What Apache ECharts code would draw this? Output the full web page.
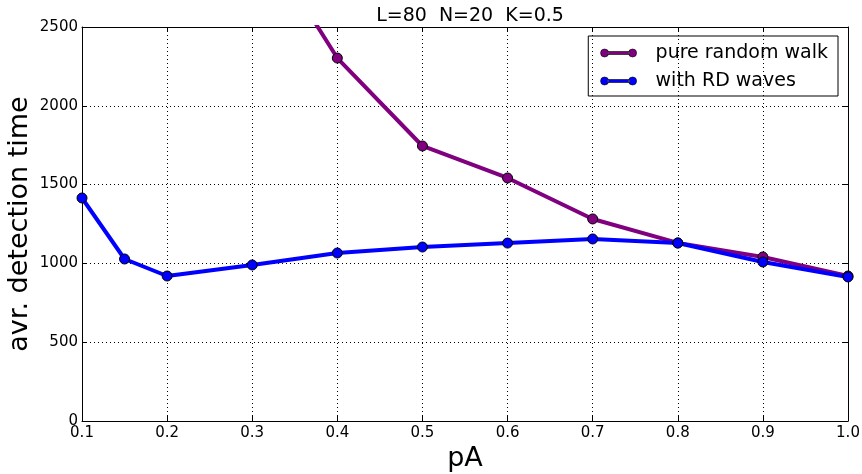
<!DOCTYPE html>
<html><head><meta charset="utf-8">
<script src="https://cdn.jsdelivr.net/npm/echarts@6/dist/echarts.min.js"></script>
<style>html,body{margin:0;padding:0;background:#fff}#c{width:862px;height:474px}</style>
</head><body><div id="c"></div>
<script>
const pA = [0.1, 0.15, 0.2, 0.3, 0.4, 0.5, 0.6, 0.7, 0.8, 0.9, 1.0];
const pureRandomWalk = [null, null, null, 3160, 2303, 1745, 1542, 1282, 1130, 1041, 920];
const withRDWaves = [1415, 1028, 920, 990, 1066, 1104, 1129, 1155, 1129, 1009, 914];
const yTicks = [0, 500, 1000, 1500, 2000, 2500];

const F = 'DejaVu Sans';
const chart = echarts.init(document.getElementById('c'));
const pairs = (ys) => pA.map((x, i) => [x, ys[i]]);
const gridLine = {show: true, lineStyle: {color: '#000', type: [1, 3], width: 1}};
const legendIcon = 'path://M0,4a4,4 0 1,0 8,0a4,4 0 1,0 -8,0zM28,4a4,4 0 1,0 8,0a4,4 0 1,0 -8,0zM7,2.5h22v3h-22z';
chart.setOption({
  animation: false,
  title: {text: 'L=80  N=20  K=0.5', left: 465, top: 2, textAlign: 'center',
    textStyle: {fontFamily: F, fontSize: 19, fontWeight: 'normal', color: '#000'}},
  grid: {left: 82, right: 14, top: 27, bottom: 53, outerBoundsMode: 'none', containLabel: false},
  legend: {
    right: 24, top: 36, orient: 'vertical', itemGap: 8, itemWidth: 36, itemHeight: 9,
    borderColor: '#000', borderWidth: 1, padding: [7, 10, 5, 12],
    icon: legendIcon,
    itemStyle: {borderColor: '#000', borderWidth: 0.6},
    textStyle: {fontFamily: F, fontSize: 19, lineHeight: 20, color: '#000', padding: [0, 0, 0, 14]},
    data: ['pure random walk', 'with RD waves']
  },
  xAxis: [{
    type: 'value', min: 0.1, max: 1.0, interval: 0.1,
    name: 'pA', nameLocation: 'middle', nameGap: 23,
    nameTextStyle: {fontFamily: F, fontSize: 27, color: '#000'},
    axisLine: {show: true, onZero: false, lineStyle: {color: '#000', width: 1}},
    axisTick: {show: true, inside: true, length: 5, lineStyle: {color: '#000'}},
    axisLabel: {fontFamily: F, fontSize: 15, color: '#000', margin: 5, formatter: v => v.toFixed(1)},
    splitLine: gridLine
  }, {
    type: 'value', position: 'top', min: 0.1, max: 1.0, interval: 0.1,
    axisLine: {show: true, onZero: false, lineStyle: {color: '#000', width: 1}},
    axisTick: {show: true, inside: true, length: 5, lineStyle: {color: '#000'}},
    axisLabel: {show: false}, splitLine: {show: false}
  }],
  yAxis: [{
    type: 'value', min: 0, max: 2500, interval: 500,
    name: 'avr. detection time', nameLocation: 'middle', nameGap: 49, nameMoveOverlap: false,
    nameTextStyle: {fontFamily: F, fontSize: 27, color: '#000'},
    axisLine: {show: true, lineStyle: {color: '#000', width: 1}},
    axisTick: {show: true, inside: true, length: 5, lineStyle: {color: '#000'}},
    axisLabel: {fontFamily: F, fontSize: 15, color: '#000', margin: 4,
      formatter: v => yTicks.includes(v) ? String(v) : ''},
    splitLine: gridLine
  }, {
    type: 'value', position: 'right', min: 0, max: 2500, interval: 500,
    axisLine: {show: true, lineStyle: {color: '#000', width: 1}},
    axisTick: {show: true, inside: true, length: 5, lineStyle: {color: '#000'}},
    axisLabel: {show: false}, splitLine: {show: false}
  }],
  series: [{
    name: 'pure random walk', type: 'line', data: pairs(pureRandomWalk),
    color: '#800080', symbol: 'circle', symbolSize: 10, clip: true,
    lineStyle: {width: 4, color: '#800080'},
    itemStyle: {color: '#800080', borderColor: '#000', borderWidth: 1}
  }, {
    name: 'with RD waves', type: 'line', data: pairs(withRDWaves),
    color: '#0000ff', symbol: 'circle', symbolSize: 10, clip: false,
    lineStyle: {width: 4, color: '#0000ff'},
    itemStyle: {color: '#0000ff', borderColor: '#000', borderWidth: 1}
  }]
});
</script></body></html>
